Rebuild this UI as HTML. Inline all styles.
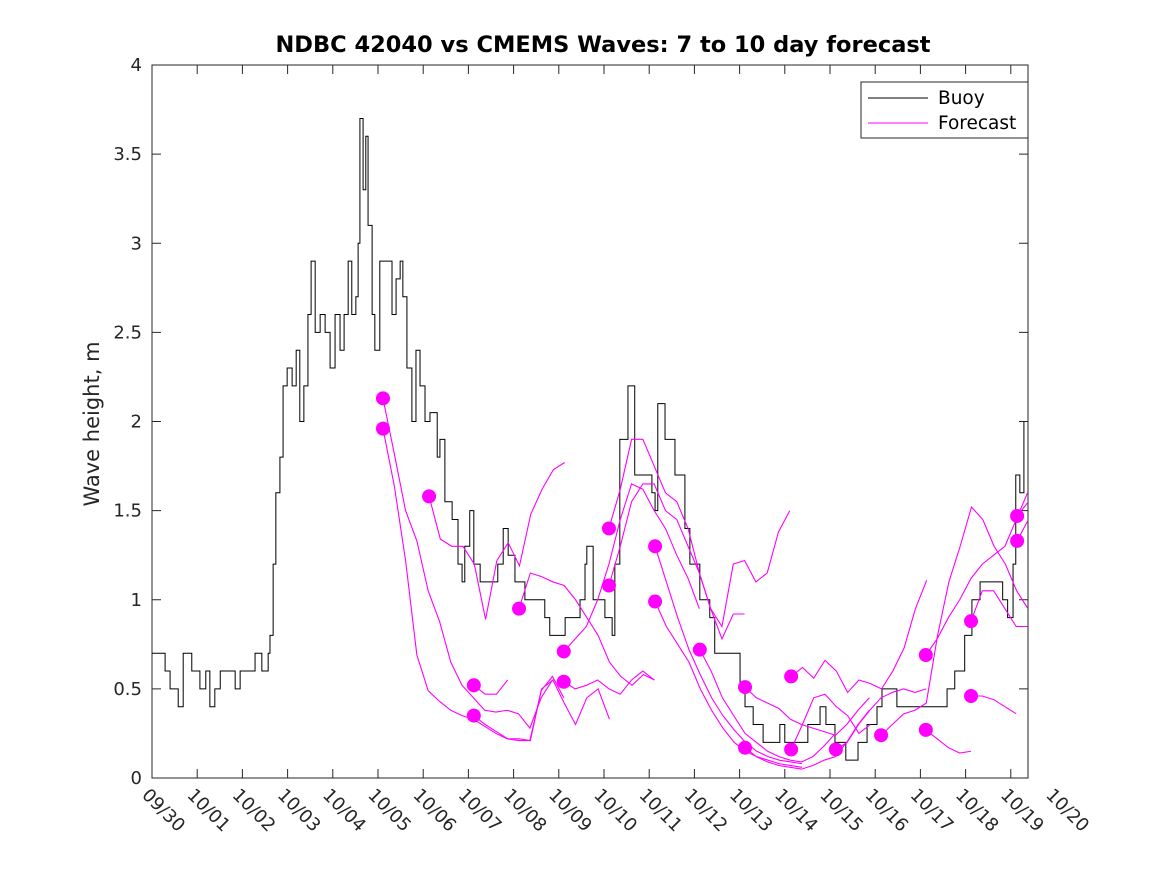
<!DOCTYPE html>
<html><head><meta charset="utf-8"><style>
body{margin:0;background:#fff;}
svg{display:block;font-family:"DejaVu Sans","Liberation Sans",sans-serif;}
</style></head><body>
<svg id="chart" width="1167" height="875">
<defs><clipPath id="clip"><rect x="152" y="65" width="876" height="713"/></clipPath></defs>
<rect width="1167" height="875" fill="#fff"/>
<text x="603" y="52" text-anchor="middle" font-size="22.5" font-weight="bold" fill="#000">NDBC 42040 vs CMEMS Waves: 7 to 10 day forecast</text>
<text transform="translate(99,424) rotate(-90)" text-anchor="middle" font-size="21" fill="#262626">Wave height, m</text>
<g id="axes"></g>
<g id="plot" clip-path="url(#clip)"></g>
<g>
<rect x="861" y="82" width="167" height="56" fill="#fff" stroke="#262626" stroke-width="1"/>
<line x1="868" y1="98" x2="928" y2="98" stroke="#000" stroke-width="1"/>
<text x="938" y="104" font-size="18.5" fill="#000">Buoy</text>
<line x1="868" y1="123" x2="928" y2="123" stroke="#f0f" stroke-width="1"/>
<text x="938" y="129" font-size="18.5" fill="#000">Forecast</text>
</g>
</svg>
<script>
const xTickLabels=["09/30","10/01","10/02","10/03","10/04","10/05","10/06","10/07","10/08","10/09","10/10","10/11","10/12","10/13","10/14","10/15","10/16","10/17","10/18","10/19","10/20"];
const yTicks=[0,0.5,1,1.5,2,2.5,3,3.5,4];
const yTickLabels=["0","0.5","1","1.5","2","2.5","3","3.5","4"];
const buoyT=[0,0.29,0.40,0.58,0.69,0.88,1.06,1.19,1.28,1.39,1.51,1.84,1.95,2.28,2.43,2.57,2.61,2.68,2.74,2.83,2.90,2.99,3.10,3.19,3.27,3.36,3.45,3.52,3.61,3.72,3.83,3.94,4.05,4.16,4.25,4.34,4.42,4.51,4.56,4.60,4.67,4.73,4.78,4.87,4.93,5.04,5.18,5.31,5.40,5.49,5.55,5.64,5.75,5.84,5.93,6.04,6.15,6.31,6.37,6.48,6.64,6.77,6.86,6.92,7.03,7.12,7.26,7.59,7.65,7.77,7.88,8.03,8.25,8.69,8.80,9.14,9.47,9.58,9.62,9.76,10.02,10.18,10.24,10.35,10.53,10.68,11.06,11.13,11.19,11.35,11.57,11.79,11.90,12.12,12.34,12.45,12.56,13.01,13.12,13.30,13.52,13.89,14.0,14.51,14.78,14.91,15.11,15.35,15.62,15.82,16.04,16.15,16.48,17.59,17.76,17.98,18.14,18.32,18.82,18.93,19.05,19.11,19.2,19.29];
const buoyV=[0.7,0.6,0.5,0.4,0.7,0.6,0.5,0.6,0.4,0.5,0.6,0.5,0.6,0.7,0.6,0.7,0.8,1.2,1.6,1.8,2.2,2.3,2.2,2.4,2.0,2.2,2.6,2.9,2.5,2.6,2.5,2.3,2.6,2.4,2.6,2.9,2.6,2.7,3.0,3.7,3.3,3.6,3.1,2.6,2.4,2.9,2.9,2.6,2.8,2.9,2.7,2.3,2.0,2.4,2.2,2.0,2.05,1.8,1.9,1.55,1.45,1.2,1.1,1.3,1.5,1.2,1.1,1.1,1.2,1.4,1.25,1.1,1.0,0.9,0.8,0.9,1.0,1.2,1.3,1.0,0.9,0.8,1.2,1.9,2.2,1.7,1.6,1.5,2.1,1.9,1.7,1.4,1.2,1.0,0.9,0.7,0.7,0.5,0.4,0.3,0.2,0.3,0.2,0.3,0.4,0.3,0.2,0.1,0.2,0.3,0.4,0.5,0.4,0.5,0.6,0.8,1.0,1.1,1.0,0.9,1.2,1.7,1.6,2.0];
const fcStart=[5.11,5.11,6.13,7.12,7.12,8.12,9.11,9.11,10.11,10.11,11.13,11.13,12.12,13.12,13.12,14.14,14.14,15.13,16.13,17.12,17.12,18.12,18.12,19.14,19.14];
const fcStep=0.25;
const fcValues=[
[2.13,1.82,1.50,1.33,1.05,0.88,0.65,0.52,0.45,0.38,0.37,0.38,0.36,0.28,0.45,0.55],
[1.96,1.64,1.22,0.69,0.49,0.43,0.38,0.35,0.33,0.29,0.25,0.22,0.21,0.21,0.49,0.57,0.45],
[1.58,1.34,1.30,1.30,1.20,0.89,1.22,1.32,1.19,1.48,1.62,1.73,1.77],
[0.52,0.47,0.47,0.55],
[0.35,0.30,0.26,0.22,0.22,0.21,0.50,0.55,0.42,0.30,0.45,0.50,0.33],
[0.95,1.15,1.13,1.10,1.08,1.00,0.90,0.80,0.65,0.57,0.52,0.58,0.55],
[0.71,0.78,0.85,1.00,1.20,1.45,1.65,1.62,1.50,1.40,1.25,1.12,0.95],
[0.54,0.50,0.52,0.55,0.50,0.47,0.55,0.60,0.55],
[1.40,1.62,1.90,1.90,1.75,1.60,1.55,1.40,1.15,0.95,0.85,1.20,1.22,1.10,1.15,1.38,1.50],
[1.08,1.30,1.55,1.65,1.65,1.50,1.45,1.30,1.15,0.95,0.78,0.92,0.92],
[1.30,1.10,0.90,0.72,0.58,0.45,0.35,0.27,0.20,0.15,0.12,0.10,0.09,0.08],
[0.99,0.85,0.75,0.65,0.50,0.38,0.28,0.20,0.15,0.12,0.10,0.08,0.07,0.06],
[0.72,0.60,0.45,0.35,0.25,0.20,0.15,0.12,0.10,0.09,0.12,0.18,0.25],
[0.51,0.45,0.42,0.39,0.33,0.30,0.28,0.26,0.24,0.30,0.38,0.45],
[0.17,0.12,0.09,0.07,0.06,0.05,0.07,0.10,0.12,0.20,0.30,0.38],
[0.57,0.62,0.56,0.66,0.60,0.48,0.55,0.53,0.50,0.60,0.73,0.95,1.11],
[0.16,0.30,0.45,0.47,0.40,0.35,0.25,0.30],
[0.16,0.20,0.30,0.38,0.45,0.48,0.50,0.48,0.50],
[0.24,0.30,0.36,0.38,0.42,0.80,1.10,1.30,1.52,1.45,1.30,1.20,1.05,0.95],
[0.69,0.78,0.90,1.00,1.12,1.20,1.25,1.30,1.45,1.60],
[0.27,0.22,0.17,0.14,0.15],
[0.88,1.05,1.05,0.95,0.85,0.85],
[0.46,0.46,0.44,0.40,0.36],
[1.47,1.55],
[1.33,1.45]
];
const X0=152,X1=1028,Y0=778,Y1=65,PXDAY=45.2;
const xs=t=>X0+PXDAY*t;
const ys=v=>Y0-(Y0-Y1)*v/4;
const NS="http://www.w3.org/2000/svg";
function mk(tag,attrs,parent){const e=document.createElementNS(NS,tag);for(const k in attrs)e.setAttribute(k,attrs[k]);parent.appendChild(e);return e;}
const axes=document.getElementById('axes'),plot=document.getElementById('plot');
let frame=mk('rect',{x:X0,y:Y1,width:X1-X0,height:Y0-Y1,fill:'none',stroke:'#262626','stroke-width':1},axes);


xTickLabels.forEach((lab,i)=>{const x=xs(i);
if(x<X1-1){mk('line',{x1:x,y1:Y0,x2:x,y2:Y0-9,stroke:'#262626'},axes);
mk('line',{x1:x,y1:Y1,x2:x,y2:Y1+9,stroke:'#262626'},axes);}
const t=mk('text',{transform:`translate(${x-11},${796}) rotate(45)`,'font-size':18,fill:'#262626'},axes);t.textContent=lab;

});
yTicks.forEach((v,i)=>{const y=ys(v);
mk('line',{x1:X0,y1:y,x2:X0+9,y2:y,stroke:'#262626'},axes);
mk('line',{x1:X1,y1:y,x2:X1-9,y2:y,stroke:'#262626'},axes);
const t=mk('text',{x:X0-10,y:y+6,'text-anchor':'end','font-size':18,fill:'#262626'},axes);t.textContent=yTickLabels[i];

});
let d='';buoyT.forEach((t,i)=>{const x=xs(t),y=ys(buoyV[i]);if(i===0)d+=`M${x},${y}`;else d+=`H${x}V${y}`;});
const bl=mk('path',{d:d,fill:'none',stroke:'#000','stroke-width':1},plot);


fcValues.forEach((vals,k)=>{const pts=vals.map((v,j)=>`${xs(fcStart[k]+j*fcStep)},${ys(v)}`).join(' ');
const pl=mk('polyline',{points:pts,fill:'none',stroke:'#f0f','stroke-width':1.1},plot);

});
fcValues.forEach((vals,k)=>{const c=mk('circle',{cx:xs(fcStart[k]),cy:ys(vals[0]),r:7,fill:'#f0f'},plot);

});
</script>
</body></html>
